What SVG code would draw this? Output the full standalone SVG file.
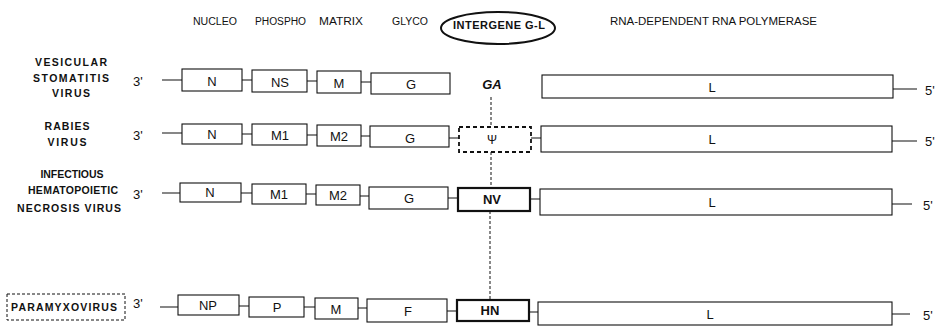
<svg xmlns="http://www.w3.org/2000/svg" width="940" height="326" viewBox="0 0 940 326">
<style>
text{font-family:"Liberation Sans",Arial,sans-serif;fill:#111}
.hdr{font-size:10px}
.lab{font-size:10.5px;font-weight:bold;text-anchor:middle}
.end{font-size:13px}
.g{font-size:13px;text-anchor:middle}
.gb{font-size:13px;font-weight:bold;text-anchor:middle}
.box{fill:#fff;stroke:#111;stroke-width:1.1}
.thick{fill:#fff;stroke:#111;stroke-width:2.2}
.dash{fill:#fff;stroke:#111;stroke-width:1.8;stroke-dasharray:4 3}
.ln{stroke:#111;stroke-width:1.1;fill:none}
.dot{stroke:#111;stroke-width:1;stroke-dasharray:3 2;fill:none}
</style>
<rect width="940" height="326" fill="#fff"/>
<g id="headers">
<text class="hdr" x="193" y="25" textLength="44" lengthAdjust="spacingAndGlyphs">NUCLEO</text>
<text class="hdr" x="255" y="25" textLength="51" lengthAdjust="spacingAndGlyphs">PHOSPHO</text>
<text class="hdr" x="319" y="25" textLength="44" lengthAdjust="spacingAndGlyphs">MATRIX</text>
<text class="hdr" x="392" y="25" textLength="36" lengthAdjust="spacingAndGlyphs">GLYCO</text>
<text class="hdr" x="610" y="25" textLength="207" lengthAdjust="spacingAndGlyphs">RNA-DEPENDENT RNA POLYMERASE</text>
</g>
<g id="intergene">
<ellipse cx="498" cy="28" rx="57" ry="16" fill="#fff" stroke="#111" stroke-width="2"/>
<text x="499" y="29" font-size="11" font-weight="bold" text-anchor="middle" textLength="92" lengthAdjust="spacing">INTERGENE G-L</text>
</g>
<g id="label-vsv">
<text class="lab" x="71" y="66" textLength="72" lengthAdjust="spacing">VESICULAR</text>
<text class="lab" x="71" y="82" textLength="76" lengthAdjust="spacing">STOMATITIS</text>
<text class="lab" x="71" y="97" textLength="38" lengthAdjust="spacing">VIRUS</text>
</g>
<g id="label-rabies">
<text class="lab" x="67" y="130" textLength="45" lengthAdjust="spacing">RABIES</text>
<text class="lab" x="67" y="146" textLength="39" lengthAdjust="spacing">VIRUS</text>
</g>
<g id="label-ihnv">
<text class="lab" x="72" y="178" textLength="63" lengthAdjust="spacing">INFECTIOUS</text>
<text class="lab" x="73" y="194" textLength="90" lengthAdjust="spacing">HEMATOPOIETIC</text>
<text class="lab" x="69" y="212" textLength="104" lengthAdjust="spacing">NECROSIS VIRUS</text>
</g>
<g id="label-paramyxo">
<rect x="7" y="294" width="118" height="26" fill="#fff" stroke="#111" stroke-width="1" stroke-dasharray="3 2"/>
<text class="lab" x="64" y="311" textLength="106" lengthAdjust="spacing">PARAMYXOVIRUS</text>
</g>
<g id="ends">
<text class="end" x="133" y="86">3'</text>
<text class="end" x="133" y="140">3'</text>
<text class="end" x="133" y="199">3'</text>
<text class="end" x="133" y="308">3'</text>
<text class="end" x="925" y="95">5'</text>
<text class="end" x="925" y="146">5'</text>
<text class="end" x="923" y="210">5'</text>
<text class="end" x="923" y="320">5'</text>
</g>
<g id="connectors">
<path class="ln" d="M162 80H182M242 80H252M307 81H317M361 82H371M893 89H917"/>
<path class="ln" d="M162 133H182M242 134H252M307 135H317M361 136H370M449 138H459M531 138H541M892 141H917"/>
<path class="ln" d="M162 193H180M241 193H252M306 194H316M360 196H369M448 198H458M530 199H540M892 204H912"/>
<path class="ln" d="M160 307H178M239 306H249M304 307H315M358 308H367M447 311H457M529 312H538M892 314H910"/>
<path class="dot" d="M491 97V127M491 152V188M490 211V300"/>
</g>
<g id="vsv-N"><rect class="box" x="182" y="69" width="60" height="22"/><text class="g" x="212" y="86">N</text></g>
<g id="vsv-NS"><rect class="box" x="252" y="70" width="55" height="22"/><text class="g" x="280" y="87">NS</text></g>
<g id="vsv-M"><rect class="box" x="317" y="71" width="44" height="22"/><text class="g" x="339" y="88">M</text></g>
<g id="vsv-G"><rect class="box" x="371" y="73" width="79" height="21"/><text class="g" x="411" y="89">G</text></g>
<g id="vsv-GA"><text x="492" y="89" font-size="13" font-weight="bold" font-style="italic" text-anchor="middle">GA</text></g>
<g id="vsv-L"><rect class="box" x="542" y="75" width="351" height="23"/><text class="g" x="712" y="92">L</text></g>
<g id="rab-N"><rect class="box" x="182" y="124" width="60" height="20"/><text class="g" x="212" y="139">N</text></g>
<g id="rab-M1"><rect class="box" x="252" y="124" width="55" height="21"/><text class="g" x="280" y="140">M1</text></g>
<g id="rab-M2"><rect class="box" x="317" y="125" width="44" height="21"/><text class="g" x="339" y="141">M2</text></g>
<g id="rab-G"><rect class="box" x="370" y="126" width="79" height="21"/><text class="g" x="410" y="143">G</text></g>
<g id="rab-psi"><rect class="dash" x="459" y="127" width="72" height="25"/><text x="492" y="144" font-size="12" text-anchor="middle" font-family="DejaVu Sans,sans-serif">Ψ</text></g>
<g id="rab-L"><rect class="box" x="541" y="126" width="351" height="26"/><text class="g" x="712" y="144">L</text></g>
<g id="ihnv-N"><rect class="box" x="180" y="183" width="61" height="19"/><text class="g" x="210" y="197">N</text></g>
<g id="ihnv-M1"><rect class="box" x="252" y="184" width="54" height="20"/><text class="g" x="279" y="199">M1</text></g>
<g id="ihnv-M2"><rect class="box" x="316" y="185" width="44" height="20"/><text class="g" x="338" y="200">M2</text></g>
<g id="ihnv-G"><rect class="box" x="369" y="187" width="79" height="22"/><text class="g" x="409" y="203">G</text></g>
<g id="ihnv-NV"><rect class="thick" x="458" y="188" width="72" height="23"/><text class="gb" x="492" y="204">NV</text></g>
<g id="ihnv-L"><rect class="box" x="540" y="189" width="352" height="26"/><text class="g" x="712" y="207">L</text></g>
<g id="pmv-NP"><rect class="box" x="178" y="295" width="61" height="20"/><text class="g" x="208" y="310">NP</text></g>
<g id="pmv-P"><rect class="box" x="249" y="297" width="55" height="20"/><text class="g" x="277" y="312">P</text></g>
<g id="pmv-M"><rect class="box" x="315" y="298" width="43" height="21"/><text class="g" x="336" y="314">M</text></g>
<g id="pmv-F"><rect class="box" x="367" y="299" width="80" height="23"/><text class="g" x="408" y="316">F</text></g>
<g id="pmv-HN"><rect class="thick" x="457" y="300" width="72" height="21"/><text class="gb" x="490" y="315">HN</text></g>
<g id="pmv-L"><rect class="box" x="538" y="302" width="354" height="23"/><text class="g" x="710" y="319">L</text></g>
</svg>
